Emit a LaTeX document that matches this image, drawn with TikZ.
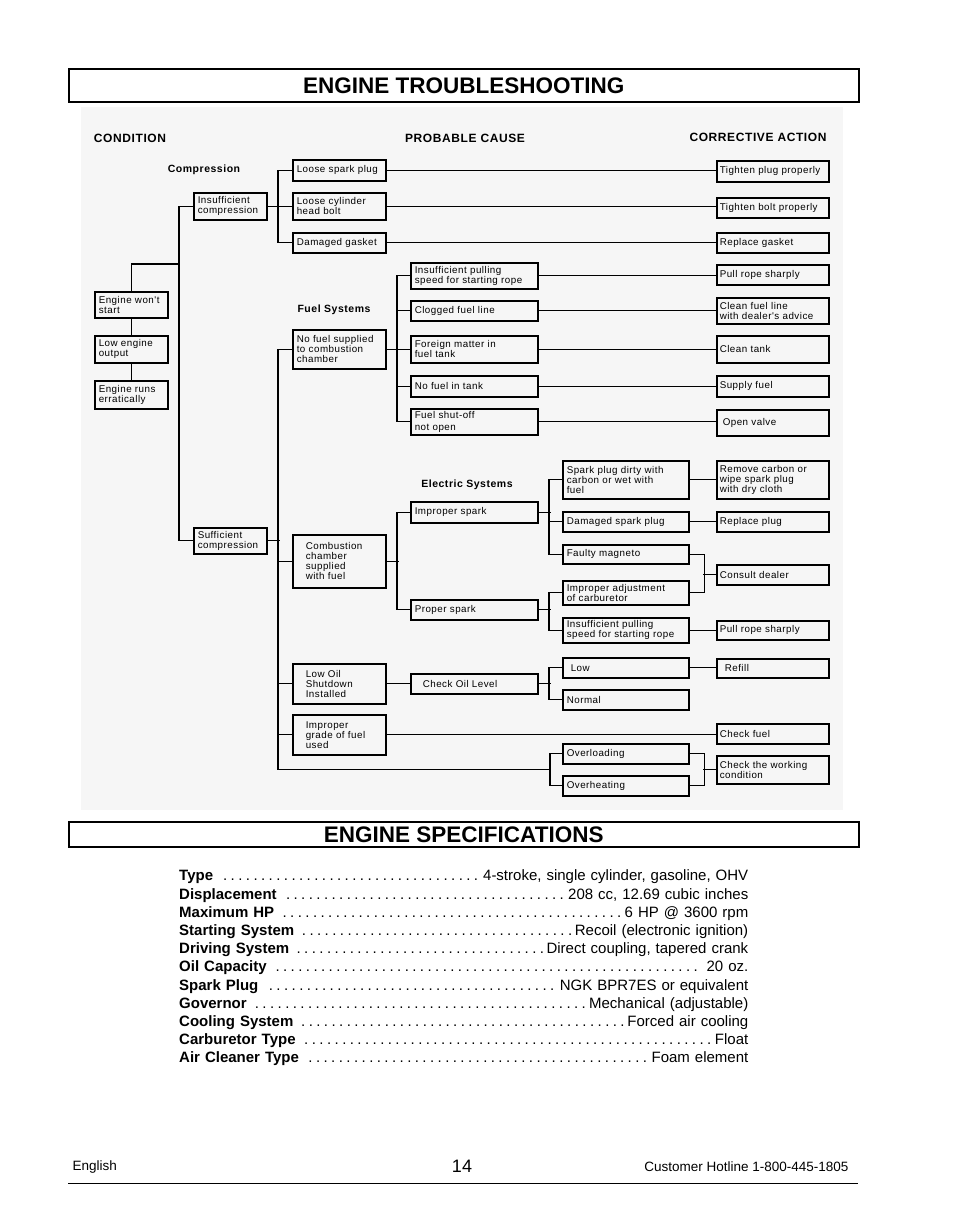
\documentclass[tikz,border=0pt]{standalone}
\usepackage{fontspec}
\setmainfont{Liberation Sans}
\newfontfamily\chartfont[LetterSpace=5]{Liberation Sans}
\usetikzlibrary{calc,positioning}
\definecolor{chartBack}{gray}{0.965}
\newcommand{\boxfont}{\chartfont\fontsize{9.8}{10}\selectfont}
\newcommand{\headfont}{\chartfont\bfseries\fontsize{12}{14}\selectfont}
\newcommand{\groupfont}{\chartfont\bfseries\fontsize{10.5}{12}\selectfont}
\newcommand{\titlefont}{\bfseries\fontsize{22.5}{25}\selectfont}
\newcommand{\specfont}{\fontsize{15}{18}\selectfont}
\newcommand{\footfont}{\fontsize{13.5}{16}\selectfont}
\newcommand{\SpecDots}{\leavevmode\cleaders\hbox to 7.6pt{\hss.\hss}\hfill\kern0pt}

\begin{document}
\begin{tikzpicture}[x=1pt,y=-1pt,
  box/.style={draw,line width=1.5pt,anchor=north west,align=left,inner xsep=4pt,inner ysep=1pt,font=\boxfont},
  condBox/.style={box,text width=65pt},
  causeBox/.style={box,text width=85pt},
  indented/.style={inner xsep=13pt,text width=67pt},
  sparkBox/.style={box,text width=119pt},
  partBox/.style={box,text width=118pt},
  actionBox/.style={box,inner xsep=3pt,text width=106pt},
  link/.style={line width=1.2pt},
  colHead/.style={font=\headfont},
  groupHead/.style={font=\groupfont},
  titleBox/.style={draw,line width=1.5pt,anchor=north west,minimum width=790pt,inner sep=0pt,font=\titlefont},
  specLine/.style={anchor=west,inner sep=0pt,text width=569pt,align=left,font=\specfont}]
\useasboundingbox (0,0) rectangle (954,1227);
\fill[white] (0,0) rectangle (954,1227);
\fill[chartBack] (81,107) rectangle (843,810);

% titles
\node[titleBox,minimum height=33pt] (troubleTitle) at (68,68) {ENGINE TROUBLESHOOTING};
\node[titleBox,minimum height=25pt] (specTitle) at (68,821) {ENGINE SPECIFICATIONS};

% column and group heads
\node[colHead] (condHead) at (130,138) {CONDITION};
\node[colHead] (causeHead) at (465,138) {PROBABLE CAUSE};
\node[colHead] (actionHead) at (758,137) {CORRECTIVE ACTION};
\node[groupHead] (compHead) at (204,170) {Compression};
\node[groupHead] (fuelHead) at (334,310) {Fuel Systems};
\node[groupHead] (sparkHead) at (467,485) {Electric Systems};

% condition
\node[condBox,minimum height=26pt] (wontStart) at (94,291) {Engine won't\\start};
\node[condBox,minimum height=27pt] (lowOutput) at (94,335) {Low engine\\output};
\node[condBox,minimum height=28pt] (runsErratic) at (94,380) {Engine runs\\erratically};
\node[condBox,minimum height=27pt] (insufComp) at (193,192) {Insufficient\\compression};
\node[condBox,minimum height=26pt] (sufComp) at (193,527) {Sufficient\\compression};

% probable cause
\node[causeBox,minimum height=21pt] (loosePlug) at (292,159) {Loose spark plug};
\node[causeBox,minimum height=27pt] (looseBolt) at (292,192) {Loose cylinder\\head bolt};
\node[causeBox,minimum height=20pt] (badGasket) at (292,232) {Damaged gasket};
\node[causeBox,minimum height=39pt] (noFuel) at (292,329) {No fuel supplied\\to combustion\\chamber};
\node[causeBox,indented,minimum height=53pt] (fuelOK) at (292,534) {Combustion\\chamber\\supplied\\with fuel};
\node[causeBox,indented,minimum height=40pt] (lowOil) at (292,663) {Low Oil\\Shutdown\\Installed};
\node[causeBox,indented,minimum height=40pt] (badGrade) at (292,714) {Improper\\grade of fuel\\used};

\node[sparkBox,minimum height=26pt] (slowPull) at (410,262) {Insufficient pulling\\speed for starting rope};
\node[sparkBox,minimum height=20pt] (cloggedLine) at (410,300) {Clogged fuel line};
\node[sparkBox,minimum height=27pt] (dirtyTank) at (410,335) {Foreign matter in\\fuel tank};
\node[sparkBox,minimum height=21pt] (emptyTank) at (410,375) {No fuel in tank};
\node[sparkBox,minimum height=26pt] (valveShut) at (410,408) {Fuel shut-off\\[2pt]not open};
\node[sparkBox,minimum height=21pt] (badSpark) at (410,501) {Improper spark};
\node[sparkBox,minimum height=20pt] (goodSpark) at (410,599) {Proper spark};
\node[sparkBox,minimum height=20pt] (oilCheck) at (410,673) {\hspace*{8pt}Check Oil Level};

\node[partBox,minimum height=38pt] (wetPlug) at (562,460) {Spark plug dirty with\\carbon or wet with\\fuel};
\node[partBox,minimum height=20pt] (brokenPlug) at (562,511) {Damaged spark plug};
\node[partBox,minimum height=19pt] (badMagneto) at (562,544) {Faulty magneto};
\node[partBox,minimum height=24pt] (badCarb) at (562,580) {Improper adjustment\\of carburetor};
\node[partBox,minimum height=25pt] (slowPullB) at (562,617) {Insufficient pulling\\speed for starting rope};
\node[partBox,minimum height=20pt] (oilLow) at (562,657) {\hspace*{4pt}Low};
\node[partBox,minimum height=20pt] (oilNormal) at (562,689) {Normal};
\node[partBox,minimum height=20pt] (overLoad) at (562,743) {Overloading};
\node[partBox,minimum height=20pt] (overHeat) at (562,775) {Overheating};

% corrective action
\node[actionBox,minimum height=21pt] (tightenPlug) at (716,160) {Tighten plug properly};
\node[actionBox,minimum height=20pt] (tightenBolt) at (716,197) {Tighten bolt properly};
\node[actionBox,minimum height=20pt] (newGasket) at (716,232) {Replace gasket};
\node[actionBox,minimum height=20pt] (pullRope) at (716,264) {Pull rope sharply};
\node[actionBox,minimum height=26pt] (cleanLine) at (716,297) {Clean fuel line\\with dealer's advice};
\node[actionBox,minimum height=27pt] (cleanTank) at (716,335) {Clean tank};
\node[actionBox,minimum height=21pt] (supplyFuel) at (716,375) {Supply fuel};
\node[actionBox,minimum height=26pt] (openValve) at (716,409) {\hspace*{3pt}Open valve};
\node[actionBox,minimum height=38pt] (removeCarbon) at (716,460) {Remove carbon or\\wipe spark plug\\with dry cloth};
\node[actionBox,minimum height=20pt] (newPlug) at (716,511) {Replace plug};
\node[actionBox,minimum height=20pt] (seeDealer) at (716,564) {Consult dealer};
\node[actionBox,minimum height=19pt] (pullRopeB) at (716,620) {Pull rope sharply};
\node[actionBox,minimum height=19pt] (refillOil) at (716,658) {\hspace*{5pt}Refill};
\node[actionBox,minimum height=20pt] (checkFuel) at (716,723) {Check fuel};
\node[actionBox,minimum height=28pt] (checkWork) at (716,755) {Check the working\\condition};

% links
\coordinate (condJoin) at (179,264);
\coordinate (heatJoin) at ($(overLoad.west)!.5!(overHeat.west)+(-12,0)$);
\draw[link] (wontStart.south) -- (lowOutput.north);
\draw[link] (lowOutput.south) -- (runsErratic.north);
\draw[link] (wontStart.north) |- (condJoin);
\draw[link] (insufComp.west) -- ++(-14,0) |- (sufComp.west);
\draw[link] (insufComp.east) -- (looseBolt.west);
\draw[link] (loosePlug.west) -- ++(-14,0) |- (badGasket.west);
\draw[link] (noFuel.west) -- ++(-14,0) |- (heatJoin);
\draw[link] (overLoad.west) -- ++(-12,0) |- (overHeat.west);
\draw[link] (sufComp.east) -- ++(12,0);
\foreach \n in {fuelOK,lowOil,badGrade}
  \draw[link] (\n.west) -- ++(-14,0);
\draw[link] (noFuel.east) -- (dirtyTank.west);
\draw[link] (slowPull.west) -- ++(-13,0) |- (valveShut.west);
\foreach \n in {cloggedLine,emptyTank,brokenPlug,seeDealer,checkWork}
  \draw[link] (\n.west) -- ++(-13,0);
\draw[link] (fuelOK.east) -- ++(12,0);
\draw[link] (badSpark.west) -- ++(-13,0) |- (goodSpark.west);
\foreach \n in {badSpark,goodSpark,oilCheck}
  \draw[link] (\n.east) -- ++(12,0);
\draw[link] (wetPlug.west) -- ++(-13,0) |- (badMagneto.west);
\draw[link] (badCarb.west) -- ++(-13,0) |- (slowPullB.west);
\draw[link] (oilLow.west) -- ++(-13,0) |- (oilNormal.west);
\draw[link] (lowOil.east) -- (lowOil.east -| oilCheck.west);
\draw[link] (badMagneto.east) -- ++(15,0) |- (badCarb.east);
\draw[link] (overLoad.east) -- ++(15,0) |- (overHeat.east);
\foreach \a/\b in {loosePlug/tightenPlug,looseBolt/tightenBolt,badGasket/newGasket,
    slowPull/pullRope,cloggedLine/cleanLine,dirtyTank/cleanTank,emptyTank/supplyFuel,
    valveShut/openValve,wetPlug/removeCarbon,brokenPlug/newPlug,slowPullB/pullRopeB,
    oilLow/refillOil,badGrade/checkFuel}
  \draw[link] (\a.east) -- (\a.east -| \b.west);

% specifications
\foreach \lbl/\val [count=\i from 0] in {Type/{4-stroke, single cylinder, gasoline, OHV},
    Displacement/{208 cc, 12.69 cubic inches},Maximum HP/{6 HP @ 3600 rpm},
    Starting System/{Recoil (electronic ignition)},Driving System/{Direct coupling, tapered crank},
    Oil Capacity/{\ 20 oz.},Spark Plug/{NGK BPR7ES or equivalent},Governor/{Mechanical (adjustable)},
    Cooling System/{Forced air cooling},Carburetor Type/{Float},Air Cleaner Type/{Foam element}}
  \node[specLine] (spec\i) at (179,{877+18.2*\i}) {\textbf{\lbl}\ \SpecDots\val};

% footer
\node[anchor=west,font=\footfont] (language) at (69,1167) {English};
\node[font=\fontsize{18}{20}\selectfont] (pageNo) at (462,1166) {14};
\node[anchor=east,font=\footfont] (hotline) at (852,1167) {Customer Hotline 1-800-445-1805};
\draw[line width=1pt] (68,1183) -- (858,1183);
\end{tikzpicture}
\end{document}
